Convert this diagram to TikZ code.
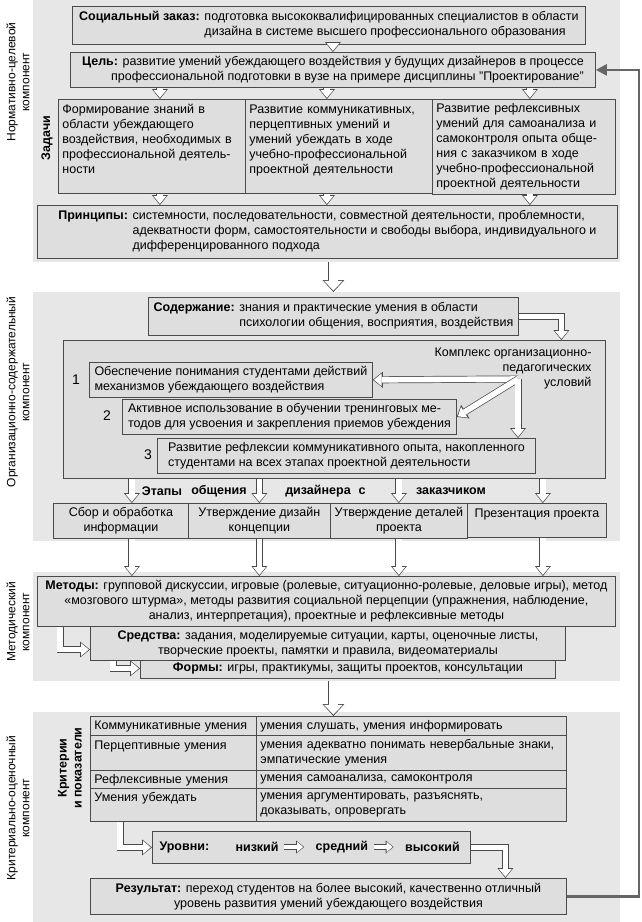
\documentclass[tikz,border=0pt]{standalone}
\usepackage{fontspec}
\setmainfont{Liberation Sans}
\usetikzlibrary{arrows.meta, positioning}
\definecolor{panelgray}{HTML}{E7E7E7}
\definecolor{boxgray}{HTML}{DEDEDE}
\definecolor{edge}{HTML}{4A4A4A}
\definecolor{fbline}{HTML}{666666}
\newcommand\txt{\fontsize{12.5}{15}\selectfont}

\begin{document}
\begin{tikzpicture}[x=1pt, y=-1pt,
  font=\txt,
  panel/.style ={fill=panelgray, anchor=north west, inner sep=0pt},
  box/.style   ={draw=edge, fill=boxgray, line width=0.8pt, anchor=north west,
                 inner sep=4pt},
  cell/.style  ={box, align=left},
  side/.style  ={rotate=90, align=center, font=\fontsize{12}{14}\selectfont},
  num/.style   ={font=\fontsize{14}{16}\selectfont},
  hol/.style   ={draw=edge, line width=7pt,
                 -{Triangle[length=10pt, width=16pt, line width=0pt]},
                 postaction={draw=white, line width=5.6pt, shorten >=1.2pt,
                   -{Triangle[length=7.6pt, width=12.6pt, line width=0pt]}}},
  holbig/.style={draw=edge, line width=10pt,
                 -{Triangle[length=12pt, width=22pt, line width=0pt]},
                 postaction={draw=white, line width=8.4pt, shorten >=1.4pt,
                   -{Triangle[length=9.7pt, width=18.6pt, line width=0pt]}}},
  hols/.style  ={draw=edge, line width=5.5pt,
                 -{Triangle[length=8pt, width=13pt, line width=0pt]},
                 postaction={draw=white, line width=4.1pt, shorten >=1pt,
                   -{Triangle[length=6pt, width=10.2pt, line width=0pt]}}},
  fb/.style    ={draw=fbline, line width=2.2pt,
                 -{Triangle[length=11pt, width=11pt]}},
]
\useasboundingbox (0,0) rectangle (642,922);

% panels
\node[panel, minimum width=587, minimum height=262] (p1) at (33,0) {};
\node[panel, minimum width=587, minimum height=249] (p2) at (33,292) {};
\node[panel, minimum width=587, minimum height=109] (p3) at (33,572) {};
\node[panel, minimum width=587, minimum height=210] (p4) at (33,712) {};

\node[side] (lab1) at (18,82)  {Нормативно-целевой\\компонент};
\node[side] (lab2) at (18,392) {Организационно-содержательный\\компонент};
\node[side] (lab3) at (18,622) {Методический\\компонент};
\node[side] (lab4) at (18,808) {Критериально-оценочный\\компонент};

% normative block
\node[box, minimum width=513, minimum height=35] (zakaz) at (72,6)
  {\begin{tabular}{@{}l@{ }l@{}}
   \textbf{Социальный заказ:} & подготовка высококвалифицированных специалистов в области\\
   & дизайна в системе высшего профессионального образования
   \end{tabular}};
\node[box, align=right, minimum width=525, minimum height=35] (goal) at (70,52)
  {\textbf{Цель:} развитие умений убеждающего воздействия у будущих дизайнеров в процессе\\
   профессиональной подготовки в вузе на примере дисциплины "Проектирование"};

\node[cell, text width=179, minimum height=94] (task1) at (58,99)
  {Формирование знаний в\\ области убеждающего\\ воздействия, необходимых в\\
   профессиональной деятель-\\ ности\\ \mbox{}};
\node[cell, text width=179, minimum height=94] (task2) at (245,99)
  {Развитие коммуникативных,\\ перцептивных умений и\\ умений убеждать в ходе\\
   учебно-профессиональной\\ проектной деятельности\\ \mbox{}};
\node[cell, text width=175, minimum height=94] (task3) at (432,99)
  {Развитие рефлексивных\\ умений для самоанализа и\\ самоконтроля опыта обще-\\
   ния с заказчиком в ходе\\ учебно-профессиональной\\ проектной деятельности};
\node[rotate=90, font=\txt\bfseries] (tasklbl) at (47,138) {Задачи};

\node[box, minimum width=580, minimum height=52] (princ) at (37,205)
  {\begin{tabular}{@{}l@{ }l@{}}
   \textbf{Принципы:} & системности, последовательности, совместной деятельности, проблемности,\\
   & адекватности форм, самостоятельности и свободы выбора,  индивидуального и\\
   & дифференцированного подхода
   \end{tabular}};

\draw[hol] (zakaz.south -| goal) -- (goal.north);
\foreach \t/\d in {task1/8,task2/-12,task3/6} {
  \draw[hol] ([xshift=\d pt]goal.south -| \t) -- ([xshift=\d pt]\t.north);
  \draw[hol] ([xshift=\d pt]\t.south) -- ([xshift=\d pt]princ.north -| \t);
}

% organisational block
\node[box, minimum width=370, minimum height=36] (content) at (148,297)
  {\begin{tabular}{@{}l@{ }l@{}}
   \textbf{Содержание:} & знания и практические умения в области\\
   & психологии общения, восприятия, воздействия
   \end{tabular}};
\draw[holbig] (p1.south -| content) -- (p2.north -| content);

\node[box, minimum width=542, minimum height=138] (kompl) at (63,340) {};
\node[anchor=north east, align=right] (klbl) at (595,344)
  {Комплекс организационно-\\педагогических\\условий};
\draw[hol] (content.east) -| ([xshift=227pt]kompl.north);

\node[cell, minimum width=283, minimum height=34] (cond1) at (89,362)
  {Обеспечение понимания студентами действий\\механизмов убеждающего воздействия};
\node[cell, minimum width=334, minimum height=35] (cond2) at (122,399)
  {Активное использование в обучении тренинговых ме-\\тодов для усвоения и закрепления приемов убеждения};
\node[cell, minimum width=378, minimum height=35] (cond3) at (157,438)
  {Развитие рефлексии коммуникативного опыта, накопленного\\студентами  на всех этапах проектной деятельности};
\node[num] (n1) at (76,380) {1};
\node[num] (n2) at (107,416) {2};
\node[num] (n3) at (148,455) {3};

\coordinate (ksrc) at (518,379);
\draw[hol] (ksrc) -- (cond1.east);
\draw[hol] (ksrc) -- (cond2.east);
\draw[hol] (ksrc) -- (ksrc |- cond3.north);

% stages
\node[box, align=center, minimum width=135, minimum height=34] (stg1) at (53,503)
  {Сбор и обработка\\информации};
\node[box, align=center, minimum width=142, minimum height=34] (stg2) at (188,503)
  {Утверждение дизайн\\концепции};
\node[box, align=center, minimum width=137, minimum height=34] (stg3) at (330,503)
  {Утверждение деталей\\проекта};
\node[box, align=center, minimum width=139, minimum height=34] (stg4) at (467,503)
  {Презентация проекта\\\mbox{}};

\node[font=\txt\bfseries] (et1) at (162,491) {Этапы};
\node[font=\txt\bfseries] (et2) at (219,491) {общения};
\node[font=\txt\bfseries] (et3) at (318,491) {дизайнера};
\node[font=\txt\bfseries] (et4) at (362,491) {с};
\node[font=\txt\bfseries] (et5) at (451,491) {заказчиком};

% methodical block
\node[box, minimum width=415, minimum height=20] (formy) at (140,658)
  {\textbf{Формы:} игры, практикумы, защиты проектов, консультации};
\node[box, align=center, minimum width=475, minimum height=34] (sredstva) at (90,626)
  {\textbf{Средства:} задания, моделируемые ситуации, карты, оценочные листы,\\
   творческие проекты, памятки и правила, видеоматериалы};
\node[box, align=center, minimum width=578, minimum height=50] (methods) at (37,576)
  {\textbf{Методы:} групповой дискуссии, игровые (ролевые, ситуационно-ролевые, деловые игры), метод\\
   «мозгового штурма», методы развития социальной перцепции (упражнения, наблюдение,\\
   анализ, интерпретация), проектные и рефлексивные методы};

\foreach \s/\d in {1/11,2/0,3/0,4/6} {
  \draw[hol] ([xshift=\d pt]stg\s.north |- kompl.south) -- ([xshift=\d pt]stg\s.north);
  \draw[hol] ([xshift=\d pt]stg\s.south) -- ([xshift=\d pt]stg\s.south |- methods.north);
}
\draw[hol] ([xshift=23pt]methods.south west) |- ([yshift=-6pt]sredstva.west);
\draw[hol] ([xshift=23pt]sredstva.south west) |- (formy.west);

% evaluative block
\node[cell, text width=158, minimum height=19] (crit1) at (90,716) {Коммуникативные умения};
\node[cell, text width=302, minimum height=19] (ind1) at (256,716) {умения слушать, умения информировать};
\node[cell, text width=158, minimum height=35] (crit2) at (90,735) {Перцептивные умения\\\mbox{}};
\node[cell, text width=302, minimum height=35] (ind2) at (256,735)
  {умения адекватно понимать невербальные  знаки,\\эмпатические умения};
\node[cell, text width=158, minimum height=18] (crit3) at (90,770) {Рефлексивные умения};
\node[cell, text width=302, minimum height=18] (ind3) at (256,770) {умения самоанализа, самоконтроля};
\node[cell, text width=158, minimum height=33] (crit4) at (90,788) {Умения убеждать\\\mbox{}};
\node[cell, text width=302, minimum height=33] (ind4) at (256,788)
  {умения аргументировать, разъяснять,\\доказывать, опровергать};
\node[rotate=90, align=center, font=\txt\bfseries] (critlbl) at (70,768) {Критерии\\и показатели};

\draw[holbig] (p3.south -| content) -- (ind1.north -| content);

\node[box, minimum width=318, minimum height=32] (levels) at (152,831) {};
\node[font=\txt\bfseries, anchor=west] (lvname) at (156,847) {Уровни:};
\node[font=\txt\bfseries, anchor=west] (low) at (232,847) {низкий};
\node[font=\txt\bfseries, right=30pt of low] (mid) {средний};
\node[font=\txt\bfseries, right=30pt of mid] (high) {высокий};
\draw[hols] ([xshift=2pt]low.east) -- ([xshift=-8pt]mid.west);
\draw[hols] ([xshift=2pt]mid.east) -- ([xshift=-8pt]high.west);

\node[box, align=center, minimum width=476, minimum height=36] (result) at (90,878)
  {\textbf{Результат:} переход студентов на более высокий, качественно отличный\\
   уровень развития умений убеждающего воздействия};

\draw[hol] ([xshift=30pt]crit4.south west) |- (levels.west);
\draw[hol] (levels.east) -| ([xshift=177pt]result.north);

\draw[fb] (result.east) -- ++(72,0) |- (goal.east);
\end{tikzpicture}
\end{document}
